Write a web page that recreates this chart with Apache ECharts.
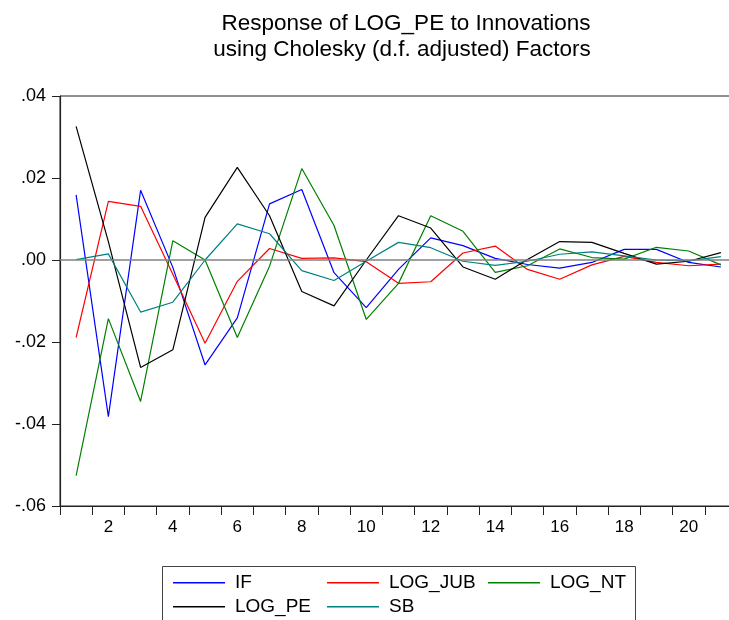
<!DOCTYPE html>
<html>
<head>
<meta charset="utf-8">
<script src="https://cdn.jsdelivr.net/npm/echarts@6/dist/echarts.min.js"></script>
<style>html,body{margin:0;padding:0;background:#fff;}#c{width:729px;height:620px;}</style>
</head>
<body>
<div id="c"></div>
<script>
const periods = ['1','2','3','4','5','6','7','8','9','10','11','12','13','14','15','16','17','18','19','20','21'];
const IF = [0.0159,-0.0382,0.0170,-0.0018,-0.0256,-0.0141,0.0137,0.0172,-0.0031,-0.0116,-0.0023,0.0054,0.0035,0.0004,-0.0011,-0.0020,-0.0006,0.0026,0.0026,-0.0006,-0.0017];
const LOG_JUB = [-0.0189,0.0143,0.0131,-0.0035,-0.0203,-0.0052,0.0028,0.0004,0.0005,-0.0004,-0.0057,-0.0053,0.0017,0.0034,-0.0023,-0.0047,-0.0012,0.0009,-0.0006,-0.0014,-0.0010];
const LOG_NT = [-0.0526,-0.0143,-0.0345,0.0047,0.0000,-0.0189,-0.0015,0.0223,0.0084,-0.0145,-0.0057,0.0108,0.0070,-0.0030,-0.0014,0.0027,0.0006,0.0002,0.0031,0.0022,-0.0012];
const LOG_PE = [0.0326,0.0045,-0.0262,-0.0219,0.0104,0.0226,0.0108,-0.0077,-0.0112,0.0000,0.0108,0.0078,-0.0017,-0.0047,0.0001,0.0045,0.0043,0.0016,-0.0010,-0.0003,0.0018];
const SB = [0.0001,0.0015,-0.0127,-0.0103,0.0000,0.0088,0.0064,-0.0026,-0.0050,-0.0003,0.0043,0.0030,-0.0003,-0.0013,-0.0003,0.0014,0.0020,0.0010,0.0000,-0.0002,0.0008];
const titleLines = ['Response of LOG_PE to Innovations', 'using Cholesky (d.f. adjusted) Factors'];

const names = ['IF','LOG_JUB','LOG_NT','LOG_PE','SB'];
const values = [IF, LOG_JUB, LOG_NT, LOG_PE, SB];
const colors = ['#0000ff','#ff0000','#008000','#000000','#008080'];
const font = 'Liberation Sans, Arial, sans-serif';

const chart = echarts.init(document.getElementById('c'), null, {renderer:'canvas'});
const series = names.map((n,i)=>{
  const s = {
    name:n, type:'line', data: values[i], symbol:'none', showSymbol:false,
    lineStyle:{color:colors[i], width:1.2}, itemStyle:{color:colors[i]},
    animation:false, z: 3
  };
  if (i===0) {
    s.markLine = {silent:true, symbol:['none','none'], label:{show:false},
      lineStyle:{color:'#808080', width:1.6, type:'solid'}, data:[{yAxis:0}], animation:false};
  }
  return s;
});

// legend slots: [name, left, top]
const legendSlots = [['IF',173,572.7],['LOG_JUB',327,572.7],['LOG_NT',488,572.7],['LOG_PE',173,596.7],['SB',327,596.7]];
const legends = legendSlots.map(([n,l,t])=>({
  data:[n], left:l, top:t, padding:0, orient:'horizontal', icon:'rect', itemWidth:52, itemHeight:1.5,
  textStyle:{fontFamily:font, fontSize:19, color:'#000', lineHeight:20, padding:[0,0,0,5]},
  selectedMode:false
}));

chart.setOption({
  backgroundColor:'#fff',
  grid:{left:60, top:96, right:-8, bottom:114, show:true, borderColor:'#222', borderWidth:1, outerBoundsMode:'none', containLabel:false},
  xAxis:{
    type:'category', data:periods, boundaryGap:true,
    axisLine:{onZero:false, lineStyle:{color:'#222', width:1.2}},
    axisTick:{show:true, inside:false, length:9, interval:0, lineStyle:{color:'#222'}},
    axisLabel:{interval:(i)=>i%2===1, fontFamily:font, fontSize:17, color:'#000', margin:13},
    splitLine:{show:false}
  },
  yAxis:{
    type:'value', min:-0.06, max:0.04, interval:0.02,
    axisLine:{show:true, lineStyle:{color:'#222', width:1.2}},
    axisTick:{show:true, inside:false, length:8, lineStyle:{color:'#222'}},
    axisLabel:{fontFamily:font, fontSize:18, color:'#000', margin:14,
      formatter:(v)=>{const r=(Math.round(v*100)/100).toFixed(2); return r.replace('0.', '.');}},
    splitLine:{show:false}
  },
  legend: legends,
  graphic:[
    {type:'text', x:406, y:24, silent:true, style:{text:titleLines[0], fontFamily:font, fontSize:22.5, fill:'#000', align:'center', verticalAlign:'middle'}},
    {type:'text', x:402, y:50, silent:true, style:{text:titleLines[1], fontFamily:font, fontSize:22.5, fill:'#000', align:'center', verticalAlign:'middle'}},
    {type:'rect', shape:{x:162.5, y:566.5, width:473, height:80}, style:{fill:'none', stroke:'#444', lineWidth:1}, silent:true}
  ],
  series: series,
  animation:false
});
</script>
</body>
</html>
